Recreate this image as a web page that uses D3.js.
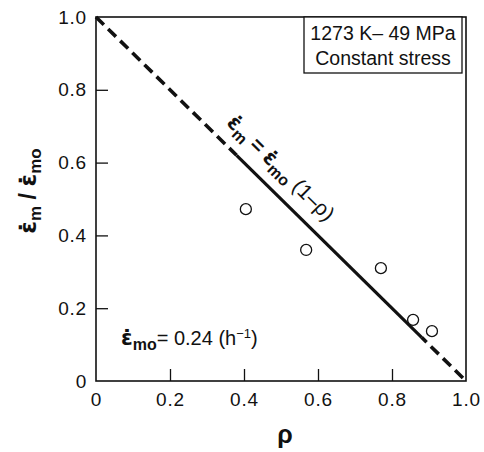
<!DOCTYPE html>
<html><head><meta charset="utf-8">
<script src="https://cdn.jsdelivr.net/npm/d3@7"></script>
<style>body{margin:0;background:#fff}svg{display:block}text{font-family:"Liberation Sans",Arial,sans-serif;fill:#111}.eps{font-family:"DejaVu Sans",sans-serif}</style>
</head><body><svg id="c" width="484" height="452"></svg>
<script>
const rho = [0.405, 0.568, 0.77, 0.857, 0.908];
const ratio = [0.472, 0.36, 0.31, 0.168, 0.137];
const xTicks = [0, 0.2, 0.4, 0.6, 0.8, 1.0];
const yTicks = [0, 0.2, 0.4, 0.6, 0.8, 1.0];
const xTickLabels = ["0", "0.2", "0.4", "0.6", "0.8", "1.0"];
const yTickLabels = ["0", "0.2", "0.4", "0.6", "0.8", "1.0"];
const dashedA = [[0, 1], [0.38, 0.62]];
const solidSeg = [[0.38, 0.62], [0.88, 0.12]];
const dashedB = [[0.88, 0.12], [1, 0]];

const svg = d3.select("#c");
const L = 96, R = 466, T = 17, B = 381;
const x = d3.scaleLinear().domain([0, 1]).range([L, R]);
const y = d3.scaleLinear().domain([0, 1]).range([B, T]);

svg.append("rect").attr("x", L).attr("y", T).attr("width", R - L).attr("height", B - T)
  .attr("fill", "none").attr("stroke", "#111").attr("stroke-width", 1.6);

const xa = svg.append("g").attr("transform", `translate(0,${B})`)
  .call(d3.axisBottom(x).tickValues(xTicks).tickSize(-12).tickPadding(12)
    .tickFormat((d, i) => xTickLabels[i]));
const ya = svg.append("g").attr("transform", `translate(${L},0)`)
  .call(d3.axisLeft(y).tickValues(yTicks).tickSize(-12).tickPadding(9)
    .tickFormat((d, i) => yTickLabels[i]));
[xa, ya].forEach(g => {
  g.select(".domain").remove();
  g.selectAll(".tick line").attr("stroke", "#111").attr("stroke-width", 1.3)
    .filter(d => d === 0 || d === 1).remove();
  g.selectAll(".tick text").style("font-size", "19px").style("letter-spacing", "0.8px").attr("fill", "#111");
});

const ln = d3.line().x(d => x(d[0])).y(d => y(d[1]));
svg.append("path").attr("d", ln(dashedA)).attr("fill", "none").attr("stroke", "#111")
  .attr("stroke-width", 3.6).attr("stroke-dasharray", "11,6");
svg.append("path").attr("d", ln(solidSeg)).attr("fill", "none").attr("stroke", "#111")
  .attr("stroke-width", 3.2);
svg.append("path").attr("d", ln(dashedB)).attr("fill", "none").attr("stroke", "#111")
  .attr("stroke-width", 3.6).attr("stroke-dasharray", "11,6").attr("stroke-dashoffset", 4);

svg.selectAll("circle.p").data(rho).enter().append("circle").attr("class", "p")
  .attr("cx", (d) => x(d)).attr("cy", (d, i) => y(ratio[i])).attr("r", 5.5)
  .attr("fill", "#fff").attr("stroke", "#111").attr("stroke-width", 1.3);

// legend box
svg.append("rect").attr("x", 304).attr("y", T).attr("width", 158).attr("height", 56)
  .attr("fill", "#fff").attr("stroke", "#111").attr("stroke-width", 1.3);
svg.append("text").attr("x", 383).attr("y", 40).attr("text-anchor", "middle")
  .style("font-size", "19.5px").text("1273 K\u2013 49 MPa");
svg.append("text").attr("x", 383).attr("y", 65).attr("text-anchor", "middle")
  .style("font-size", "19.5px").text("Constant stress");

// equation along line
const ang = Math.atan2(y(0) - y(1), x(1) - x(0)) * 180 / Math.PI;
const eq = svg.append("text").attr("transform", `translate(276,173) rotate(${ang})`)
  .attr("text-anchor", "middle").style("font-size", "21px").style("font-weight", "bold");
eq.append("tspan").attr("class", "eps").text("\u03B5\u0307");
eq.append("tspan").attr("dy", 5).style("font-size", "16px").text("m");
eq.append("tspan").attr("dy", -5).text(" = ");
eq.append("tspan").attr("class", "eps").text("\u03B5\u0307");
eq.append("tspan").attr("dy", 5).style("font-size", "16px").text("mo");
eq.append("tspan").attr("dy", -5).style("font-weight", "normal").text("  (1\u2013\u03C1)");

// bottom-left annotation
const an = svg.append("text").attr("x", 121).attr("y", 345).style("font-size", "20px");
an.append("tspan").attr("class", "eps").style("font-weight", "bold").style("font-size", "21px").text("\u03B5\u0307");
an.append("tspan").attr("dy", 5).style("font-weight", "bold").style("font-size", "16px").text("mo");
an.append("tspan").attr("dy", -5).text("= 0.24 (h");
an.append("tspan").attr("dy", -7).style("font-size", "13px").text("\u22121");
an.append("tspan").attr("dy", 7).text(")");

// axis titles
svg.append("text").attr("x", 285).attr("y", 443).attr("text-anchor", "middle")
  .style("font-size", "25px").style("font-weight", "bold").text("\u03C1");
const yt = svg.append("text").attr("transform", "translate(36,191) rotate(-90)")
  .attr("text-anchor", "middle").style("font-size", "23px").style("font-weight", "bold");
yt.append("tspan").attr("class", "eps").text("\u03B5\u0307");
yt.append("tspan").attr("dy", 5).style("font-size", "17px").text("m");
yt.append("tspan").attr("dy", -5).text(" / ");
yt.append("tspan").attr("class", "eps").text("\u03B5\u0307");
yt.append("tspan").attr("dy", 5).style("font-size", "17px").text("mo");
</script></body></html>
